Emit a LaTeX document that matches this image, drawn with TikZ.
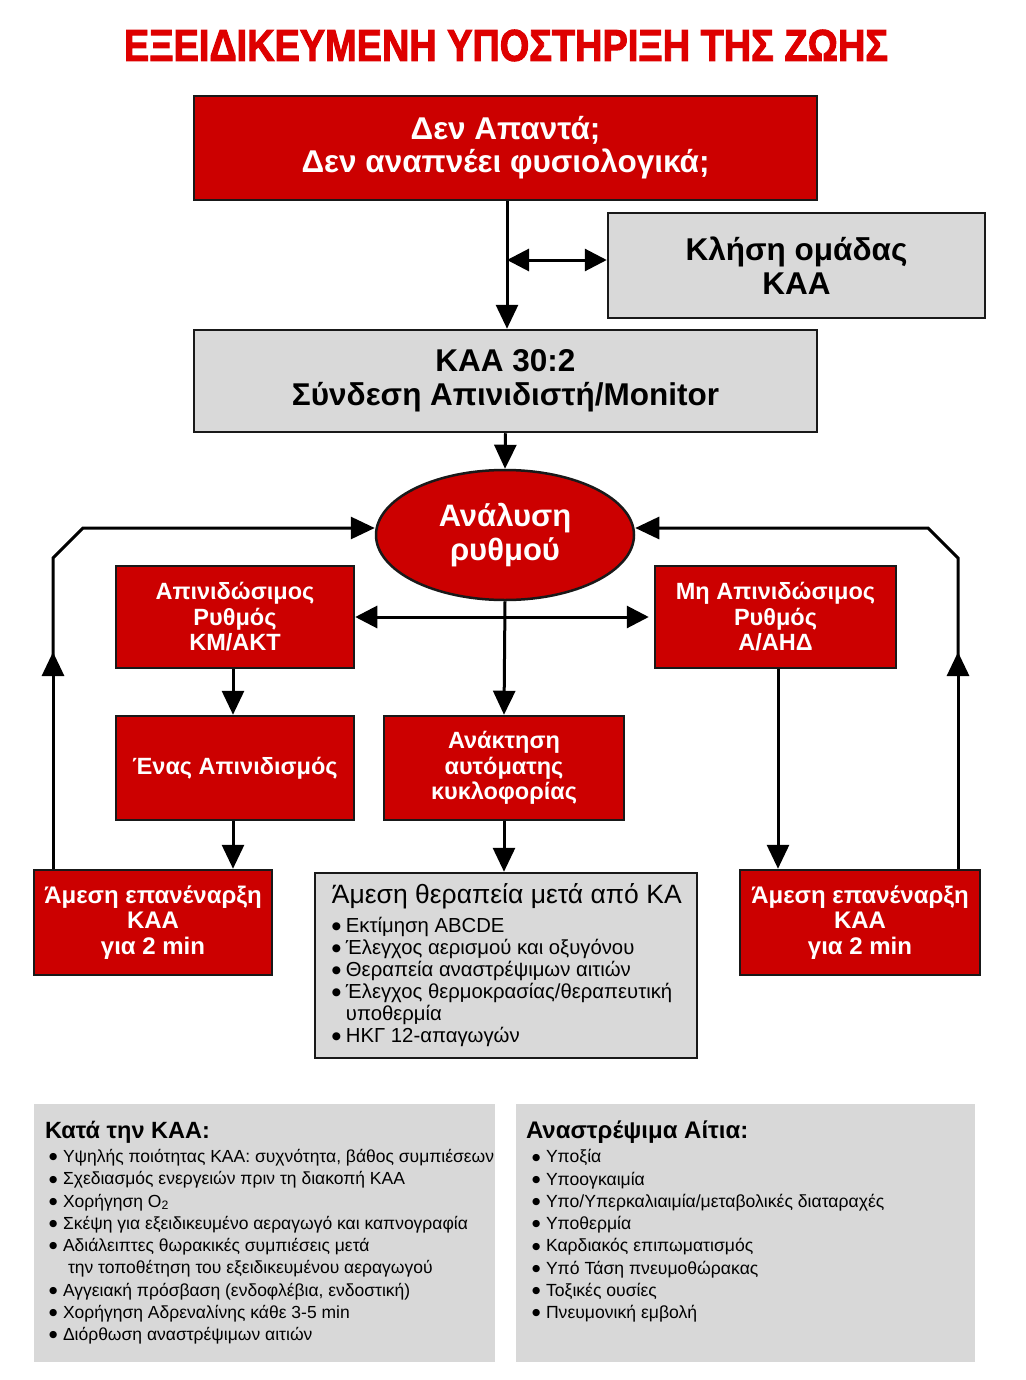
\documentclass[tikz,border=0pt]{standalone}
\usepackage{fontspec}
\setmainfont{Liberation Sans}
\newfontfamily\titlefont[FakeBold=2.5]{Liberation Sans Bold}
\newfontfamily\dejavu{DejaVu Sans}
\usetikzlibrary{arrows.meta,shapes.geometric,calc}
\definecolor{boxred}{RGB}{204,0,0}
\definecolor{titlered}{RGB}{222,0,0}
\definecolor{boxgray}{RGB}{217,217,217}
\definecolor{panelgray}{RGB}{216,216,216}
\newcommand{\itm}{\makebox[14pt][l]{\raisebox{3.2pt}{\dejavu\fontsize{10.5}{0}\selectfont ●}}}
\newcommand{\pitm}{\makebox[14pt][l]{\raisebox{2.7pt}{\dejavu\fontsize{9.5}{0}\selectfont ●}}}
\begin{document}
\begin{tikzpicture}[x=1pt,y=-1pt,
  redbox/.style={draw=black!90, line width=2.5pt, fill=boxred, text=white, align=center, inner sep=0pt, font=\bfseries\fontsize{23.5}{25.5}\selectfont},
  graybox/.style={draw=black!90, line width=2.5pt, fill=boxgray, align=center, inner sep=0pt},
  panel/.style={fill=panelgray, inner sep=0pt},
  conn/.style={line width=3pt, black},
  arr/.style={conn, -{Triangle[length=24pt,width=22pt]}},
  darr/.style={conn, {Triangle[length=22pt,width=22pt]}-{Triangle[length=22pt,width=22pt]}},
]
\useasboundingbox (0,0) rectangle (1025,1380);
\fill[white] (0,0) rectangle (1025,1380);

% title
\node[text=titlered, inner sep=0pt] (title) at (506,45.5)
  {\resizebox{764pt}{31pt}{\titlefont ΕΞΕΙΔΙΚΕΥΜΕΝΗ ΥΠΟΣΤΗΡΙΞΗ ΤΗΣ ΖΩΗΣ}};

% main chain
\node[redbox, minimum width=623pt, minimum height=104pt, font=\bfseries\fontsize{31.5}{33}\selectfont] (box1) at (505.5,148)
  {Δεν Απαντά;\\Δεν αναπνέει φυσιολογικά;};
\node[graybox, minimum width=377pt, minimum height=105pt, font=\bfseries\fontsize{31.5}{34}\selectfont] (team) at (796.5,265.5)
  {Κλήση ομάδας\\ΚΑΑ};
\node[graybox, minimum width=623pt, minimum height=102pt, font=\bfseries\fontsize{31.5}{34}\selectfont] (cpr) at (505.5,381)
  {ΚΑΑ 30:2\\Σύνδεση Απινιδιστή/Monitor};
\node[ellipse, draw=black!90, line width=2.5pt, fill=boxred, text=white, align=center, inner sep=0pt,
  minimum width=258pt, minimum height=130pt, font=\bfseries\fontsize{31}{34}\selectfont] (rhythm) at (505,535)
  {Ανάλυση\\ρυθμού};

% rhythm boxes
\node[redbox, minimum width=238pt, minimum height=102pt] (shock) at (235,617)
  {Απινιδώσιμος\\Ρυθμός\\ΚΜ/ΑΚΤ};
\node[redbox, minimum width=241pt, minimum height=102pt] (nonshock) at (775.5,617)
  {Μη Απινιδώσιμος\\Ρυθμός\\Α/ΑΗΔ};
\node[redbox, minimum width=238pt, minimum height=104pt] (oneshock) at (235,768)
  {Ένας Απινιδισμός};
\node[redbox, minimum width=240pt, minimum height=104pt] (rosc) at (504,768)
  {Ανάκτηση\\αυτόματης\\κυκλοφορίας};
\node[redbox, minimum width=238pt, minimum height=105pt, font=\bfseries\fontsize{24}{25.5}\selectfont] (cprL) at (153,922.5)
  {Άμεση επανέναρξη\\ΚΑΑ\\για 2 min};
\node[redbox, minimum width=240pt, minimum height=105pt, font=\bfseries\fontsize{24}{25.5}\selectfont] (cprR) at (860,922.5)
  {Άμεση επανέναρξη\\ΚΑΑ\\για 2 min};
\node[graybox, minimum width=382pt, minimum height=185pt] (post) at (506,965.5) {};
\node[anchor=north west, align=left, inner sep=0pt, font=\fontsize{20.3}{22}\selectfont] (posttext)
  at ($(post.north west)+(18,12)$)
  {{\fontsize{26.5}{22}\selectfont Άμεση θεραπεία μετά από ΚΑ}\\[7pt]
   \itm Εκτίμηση ABCDE\\
   \itm Έλεγχος αερισμού και οξυγόνου\\
   \itm Θεραπεία αναστρέψιμων αιτιών\\
   \itm Έλεγχος θερμοκρασίας/θεραπευτική\\
   \hspace*{14pt}υποθερμία\\
   \itm ΗΚΓ 12-απαγωγών};

% bottom panels
\node[panel, minimum width=461pt, minimum height=258pt] (during) at (264.5,1233) {};
\node[anchor=north west, align=left, inner sep=0pt, font=\fontsize{17.5}{22.25}\selectfont] (duringtext)
  at ($(during.north west)+(11,17)$)
  {{\bfseries\fontsize{23.5}{22}\selectfont Κατά την ΚΑΑ:}\\[2pt]
   \hspace*{4pt}\pitm Υψηλής ποιότητας ΚΑΑ: συχνότητα, βάθος συμπιέσεων\\
   \hspace*{4pt}\pitm Σχεδιασμός ενεργειών πριν τη διακοπή ΚΑΑ\\
   \hspace*{4pt}\pitm Χορήγηση O\textsubscript{2}\\
   \hspace*{4pt}\pitm Σκέψη για εξειδικευμένο αεραγωγό και καπνογραφία\\
   \hspace*{4pt}\pitm Αδιάλειπτες θωρακικές συμπιέσεις μετά\\
   \hspace*{23pt}την τοποθέτηση του εξειδικευμένου αεραγωγού\\
   \hspace*{4pt}\pitm Αγγειακή πρόσβαση (ενδοφλέβια, ενδοστική)\\
   \hspace*{4pt}\pitm Χορήγηση Αδρεναλίνης κάθε 3-5 min\\
   \hspace*{4pt}\pitm Διόρθωση αναστρέψιμων αιτιών};
\node[panel, minimum width=459pt, minimum height=258pt] (causes) at (745.5,1233) {};
\node[anchor=north west, align=left, inner sep=0pt, font=\fontsize{17.6}{22.25}\selectfont] (causestext)
  at ($(causes.north west)+(10,17)$)
  {{\bfseries\fontsize{24}{22}\selectfont Αναστρέψιμα Αίτια:}\\[2pt]
   \hspace*{6pt}\pitm Υποξία\\
   \hspace*{6pt}\pitm Υποογκαιμία\\
   \hspace*{6pt}\pitm Υπο/Υπερκαλιαιμία/μεταβολικές διαταραχές\\
   \hspace*{6pt}\pitm Υποθερμία\\
   \hspace*{6pt}\pitm Καρδιακός επιπωματισμός\\
   \hspace*{6pt}\pitm Υπό Τάση πνευμοθώρακας\\
   \hspace*{6pt}\pitm Τοξικές ουσίες\\
   \hspace*{6pt}\pitm Πνευμονική εμβολή};

% connectors
\draw[arr] ([xshift=1.5pt]box1.south) -- ([xshift=1.5pt]cpr.north);
\coordinate (teamjoin) at ($(box1.south)!0.5!(cpr.north)+(1.5,-5)$);
\draw[darr] (teamjoin) -- (teamjoin -| team.west);
\draw[arr] (cpr.south) -- (rhythm.north);
\draw[darr] (shock.east) -- ([xshift=-5pt]nonshock.west);
\draw[arr] (rhythm.south) -- (rosc.north);
\draw[arr] ([xshift=-2pt]shock.south) -- ([xshift=-2pt]oneshock.north);
\draw[arr] ([xshift=-2pt]oneshock.south) -- ([xshift=-2pt]oneshock.south |- cprL.north);
\draw[arr] (rosc.south) -- (rosc.south |- post.north);
\draw[arr] ([xshift=2.5pt]nonshock.south) -- ([xshift=2.5pt]nonshock.south |- cprR.north);

% return loops
\coordinate (lmid) at (53,652);
\coordinate (lc1) at (53,558);
\coordinate (lc2) at (83,528);
\coordinate (rmid) at (958,652);
\coordinate (rc1) at (958,558);
\coordinate (rc2) at (928,528);
\draw[arr] (cprL.north -| lmid) -- (lmid);
\draw[arr] ([yshift=-10pt]lmid) -- (lc1) -- (lc2) -- ([yshift=7pt]rhythm.west);
\draw[arr] (cprR.north -| rmid) -- (rmid);
\draw[arr] ([yshift=-10pt]rmid) -- (rc1) -- (rc2) -- ([yshift=7pt]rhythm.east);
\end{tikzpicture}
\end{document}
